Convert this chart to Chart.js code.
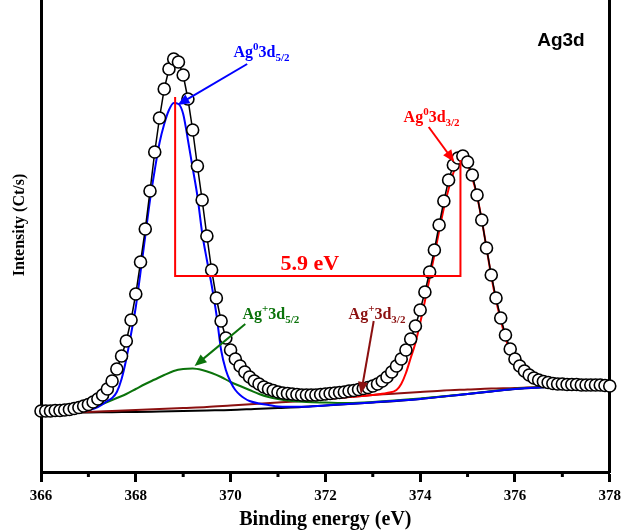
<!DOCTYPE html>
<html>
<head>
<meta charset="utf-8">
<script src="https://cdn.jsdelivr.net/npm/chart.js@4.4.0/dist/chart.umd.min.js"></script>
<style>
  html, body { margin: 0; padding: 0; background: #fff; }
</style>
</head>
<body>
<canvas id="canvas" width="626" height="532"></canvas>
<script>
// measured spectrum (open circles), 0.1 eV steps
var energy = [366.0, 366.1, 366.2, 366.3, 366.4, 366.5, 366.6, 366.7, 366.8, 366.9,
    367.0, 367.1, 367.2, 367.3, 367.4, 367.5, 367.6, 367.7, 367.8, 367.9,
    368.0, 368.1, 368.2, 368.3, 368.4, 368.5, 368.6, 368.7, 368.8, 368.9,
    369.0, 369.1, 369.2, 369.3, 369.4, 369.5, 369.6, 369.7, 369.8, 369.9,
    370.0, 370.1, 370.2, 370.3, 370.4, 370.5, 370.6, 370.7, 370.8, 370.9,
    371.0, 371.1, 371.2, 371.3, 371.4, 371.5, 371.6, 371.7, 371.8, 371.9,
    372.0, 372.1, 372.2, 372.3, 372.4, 372.5, 372.6, 372.7, 372.8, 372.9,
    373.0, 373.1, 373.2, 373.3, 373.4, 373.5, 373.6, 373.7, 373.8, 373.9,
    374.0, 374.1, 374.2, 374.3, 374.4, 374.5, 374.6, 374.7, 374.8, 374.9,
    375.0, 375.1, 375.2, 375.3, 375.4, 375.5, 375.6, 375.7, 375.8, 375.9,
    376.0, 376.1, 376.2, 376.3, 376.4, 376.5, 376.6, 376.7, 376.8, 376.9,
    377.0, 377.1, 377.2, 377.3, 377.4, 377.5, 377.6, 377.7, 377.8, 377.9,
    378.0];
var counts = [61, 61, 61, 61.5, 61.5, 62, 62.5, 63.5, 64.5, 66,
    67.5, 70, 73, 77, 83, 91, 103, 116, 131, 152,
    178, 210, 243, 281, 320, 354, 383, 403, 413, 410,
    397, 373, 342, 306, 272, 236, 202, 174, 151, 134,
    122, 113, 106, 100, 95, 91, 88, 85, 83, 81.5,
    80, 79, 78.5, 78, 77.5, 77, 77, 77, 77, 77.5,
    78, 78.5, 79, 79.5, 80, 81, 81.5, 82.5, 83.5, 84.5,
    86, 88, 91, 95, 100, 106, 113, 122, 133, 146,
    162, 180, 200, 222, 247, 271, 292, 307, 314, 316,
    310, 297, 277, 252, 224, 197, 174, 154, 137, 123,
    113, 106, 101, 97, 94, 92, 90.5, 89.5, 88.5, 88,
    88, 87.5, 87.5, 87.5, 87, 87, 87, 87, 87, 86.5,
    86];

// background + Ag+ 3d3/2 share the same energy grid
var bgEnergy = [366, 366.5, 367, 367.5, 368, 368.5, 369, 369.5, 370, 370.5, 371, 371.5, 372,
    372.5, 373, 373.5, 374, 374.5, 375, 375.5, 376, 376.5, 377, 377.5, 378];
var bgCounts = [59, 59.3, 59.5, 59.8, 60, 60.5, 61, 61.5, 62, 63, 64, 65, 66.5,
    68, 69.5, 71, 73, 75.5, 78, 80.5, 83, 84.5, 85.5, 86, 86.5];
var agPlus32 = [59, 59.3, 60, 61, 62, 63, 64, 65, 66.5, 68, 69.5, 71, 73,
    75, 77, 78.5, 80, 81.5, 82.5, 83.5, 84, 85, 85.5, 86, 86.5];

// Ag+ 3d5/2
var greenEnergy = [366.0, 366.5, 366.8, 367.0, 367.2, 367.4, 367.6, 367.8, 368.0, 368.2,
    368.4, 368.6, 368.8, 369.0, 369.2, 369.4, 369.6, 369.8, 370.0, 370.2,
    370.4, 370.6, 370.8, 371.0, 371.3, 371.6, 372.0, 372.5, 373.0, 374.0,
    375.0, 376.0, 377.0, 378.0];
var agPlus52 = [59.5, 60, 61.5, 63.5, 66, 70, 74, 78, 83, 88,
    92.5, 97, 101, 103, 103.5, 102, 99, 95, 90, 86,
    82, 78, 75, 73, 71, 70, 69.5, 69, 70, 73.5,
    78, 83.2, 85.7, 86.6];

// Ag0 3d5/2
var blueEnergy = [366.0, 366.5, 367.0, 367.2, 367.4, 367.5, 367.6, 367.7, 367.8, 367.9,
    368.0, 368.1, 368.2, 368.3, 368.4, 368.5, 368.6, 368.7, 368.8, 368.9,
    369.0, 369.1, 369.2, 369.3, 369.4, 369.5, 369.6, 369.7, 369.8, 369.9,
    370.0, 370.1, 370.2, 370.3, 370.4, 370.6, 370.8, 371.0, 371.5, 372.0,
    373.0, 374.0, 375.0, 376.0, 377.0, 378.0];
var agZero52 = [59, 59.3, 62, 65, 71, 74, 80, 93, 113, 138,
    165, 200, 236, 272, 302, 329, 348, 362, 369, 368,
    358, 332, 304, 276, 239, 212, 187, 158, 122, 102,
    90, 82, 77, 73.5, 71, 68.5, 67, 65.5, 65.2, 66.6,
    69.6, 73.1, 78.1, 83.1, 85.6, 86.6];

// Ag0 3d3/2
var redEnergy = [372.0, 372.5, 373.0, 373.3, 373.5, 373.6, 373.7, 373.8, 373.9, 374.0,
    374.1, 374.2, 374.3, 374.4, 374.5, 374.6, 374.7, 374.8, 374.9, 375.0,
    375.1, 375.2, 375.3, 375.4, 375.5, 375.6, 375.7, 375.8, 375.9, 376.0,
    376.2, 376.4, 376.6, 377.0, 377.5, 378.0];
var agZero32 = [73, 75, 77, 79, 82, 88, 99, 114, 129, 149,
    171, 194, 217, 241, 264, 283, 299, 310, 312, 307,
    294, 276, 252, 224, 196, 172, 152, 134, 120, 109,
    95, 89, 86.5, 85.5, 86, 86.5];

var xTicks = [366, 368, 370, 372, 374, 376, 378];
var minorTicks = [367, 369, 371, 373, 375, 377];

// 5.9 eV splitting bracket (eV / counts)
var gap = { left: 368.83, right: 374.85, leftTop: 375, rightTop: 312, level: 196 };

var notes = [
    { parts: [['Ag'], ['0', 'sup'], ['3d'], ['5/2', 'sub']], color: '#0000ff', x: 370.06, y: 415, from: [370.35, 408], to: [368.88, 367] },
    { parts: [['Ag'], ['0', 'sup'], ['3d'], ['3/2', 'sub']], color: '#ff0000', x: 373.65, y: 350, from: [374.18, 345], to: [374.72, 310] },
    { parts: [['Ag'], ['+', 'sup'], ['3d'], ['5/2', 'sub']], color: '#0b730b', x: 370.25, y: 153, from: [370.31, 148], to: [369.24, 106] },
    { parts: [['Ag'], ['+', 'sup'], ['3d'], ['3/2', 'sub']], color: '#8b1010', x: 372.49, y: 153, from: [373.02, 151], to: [372.75, 78] }
];

function zip(xs, ys) {
    return xs.map(function (x, i) { return { x: x, y: ys[i] }; });
}

function drawRich(ctx, x, y, parts, color) {
    ctx.fillStyle = color;
    ctx.textAlign = 'left';
    ctx.textBaseline = 'alphabetic';
    parts.forEach(function (p) {
        var small = !!p[1];
        var dy = p[1] === 'sup' ? -7 : (p[1] === 'sub' ? 4 : 0);
        ctx.font = 'bold ' + (small ? 11 : 16) + 'px "Liberation Serif"';
        ctx.fillText(p[0], x, y + dy);
        x += ctx.measureText(p[0]).width;
    });
}

function drawArrow(ctx, x1, y1, x2, y2, color) {
    var a = Math.atan2(y2 - y1, x2 - x1), len = 12, w = 5;
    ctx.strokeStyle = color;
    ctx.fillStyle = color;
    ctx.lineWidth = 2;
    ctx.beginPath();
    ctx.moveTo(x1, y1);
    ctx.lineTo(x2 - Math.cos(a) * len * 0.8, y2 - Math.sin(a) * len * 0.8);
    ctx.stroke();
    ctx.beginPath();
    ctx.moveTo(x2, y2);
    ctx.lineTo(x2 - len * Math.cos(a) + w * Math.sin(a), y2 - len * Math.sin(a) - w * Math.cos(a));
    ctx.lineTo(x2 - len * Math.cos(a) - w * Math.sin(a), y2 - len * Math.sin(a) + w * Math.cos(a));
    ctx.closePath();
    ctx.fill();
}

var notesPlugin = {
    id: 'notes',
    afterDraw: function (chart) {
        var ctx = chart.ctx, sx = chart.scales.x, sy = chart.scales.y;
        var px = function (v) { return sx.getPixelForValue(v); };
        var py = function (v) { return sy.getPixelForValue(v); };
        ctx.save();

        // short minor ticks on the energy axis
        ctx.strokeStyle = '#000';
        ctx.lineWidth = 3;
        minorTicks.forEach(function (v) {
            ctx.beginPath();
            ctx.moveTo(px(v), sy.bottom);
            ctx.lineTo(px(v), sy.bottom + 5);
            ctx.stroke();
        });

        // splitting bracket
        ctx.strokeStyle = '#ff0000';
        ctx.lineWidth = 2;
        ctx.beginPath();
        ctx.moveTo(px(gap.left), py(gap.leftTop));
        ctx.lineTo(px(gap.left), py(gap.level));
        ctx.lineTo(px(gap.right), py(gap.level));
        ctx.lineTo(px(gap.right), py(gap.rightTop));
        ctx.stroke();
        ctx.fillStyle = '#ff0000';
        ctx.font = 'bold 22px "Liberation Serif"';
        ctx.textAlign = 'center';
        ctx.textBaseline = 'middle';
        ctx.fillText('5.9 eV', px(371.67), py(208));

        notes.forEach(function (n) {
            drawArrow(ctx, px(n.from[0]), py(n.from[1]), px(n.to[0]), py(n.to[1]), n.color);
            drawRich(ctx, px(n.x), py(n.y), n.parts, n.color);
        });

        ctx.fillStyle = '#000';
        ctx.font = 'bold 19px "Liberation Sans"';
        ctx.textAlign = 'center';
        ctx.textBaseline = 'middle';
        ctx.fillText('Ag3d', px(376.97), py(431));

        // y title, drawn a little above the axis centre like the original
        ctx.save();
        ctx.translate(20, py(247));
        ctx.rotate(-Math.PI / 2);
        ctx.font = 'bold 16px "Liberation Serif"';
        ctx.fillText('Intensity (Ct/s)', 0, 0);
        ctx.restore();
        ctx.restore();
    }
};

Chart.defaults.font.family = '"Liberation Serif", "Times New Roman", serif';
Chart.defaults.color = '#000';

window.onload = function () {
    var ctx = document.getElementById("canvas").getContext("2d");
    var line = function (label, xs, ys, color, order) {
        return {
            label: label,
            data: zip(xs, ys),
            showLine: true,
            borderColor: color,
            borderWidth: 2,
            pointRadius: 0,
            cubicInterpolationMode: 'monotone',
            order: order
        };
    };
    window.xpsChart = new Chart(ctx, {
        type: 'scatter',
        data: {
            datasets: [{
                label: 'Raw',
                data: zip(energy, counts),
                showLine: true,
                borderColor: '#000',
                borderWidth: 1.5,
                pointRadius: 6,
                pointBackgroundColor: '#fff',
                pointBorderColor: '#000',
                pointBorderWidth: 1.6,
                clip: false,
                order: 0
            },
                line('Ag0 3d3/2', redEnergy, agZero32, '#ff0000', 1),
                line('Ag0 3d5/2', blueEnergy, agZero52, '#0000ff', 2),
                line('Ag+ 3d5/2', greenEnergy, agPlus52, '#0b730b', 3),
                line('Ag+ 3d3/2', bgEnergy, agPlus32, '#8b1010', 4),
                line('Background', bgEnergy, bgCounts, '#000', 5)
            ]
        },
        options: {
            responsive: false,
            animation: false,
            layout: { padding: 0, autoPadding: false },
            plugins: {
                legend: { display: false },
                tooltip: { enabled: false }
            },
            scales: {
                x: {
                    type: 'linear',
                    min: 366,
                    max: 378,
                    afterBuildTicks: function (s) {
                        s.ticks = xTicks.map(function (v) { return { value: v }; });
                    },
                    afterFit: function (s) { s.height = 60; },
                    ticks: {
                        font: { size: 15, weight: 'bold' },
                        padding: 5,
                        maxRotation: 0
                    },
                    grid: {
                        drawOnChartArea: false,
                        tickLength: 10,
                        tickWidth: 3,
                        tickColor: '#000',
                        color: '#000'
                    },
                    border: { display: true, width: 3, color: '#000' },
                    title: {
                        display: true,
                        text: 'Binding energy (eV)',
                        font: { size: 20, weight: 'bold' },
                        padding: { top: 0, bottom: 0 }
                    }
                },
                y: {
                    min: 0,
                    max: 472,
                    afterFit: function (s) { s.width = 41; },
                    ticks: { display: false },
                    grid: { display: false },
                    border: { display: true, width: 3, color: '#000' }
                },
                y2: {
                    position: 'right',
                    display: true,
                    min: 0,
                    max: 472,
                    afterFit: function (s) { s.width = 14; },
                    ticks: { display: false },
                    grid: { display: false },
                    border: { display: true, width: 3, color: '#000' }
                }
            }
        },
        plugins: [notesPlugin]
    });
};
</script>
</body>
</html>
